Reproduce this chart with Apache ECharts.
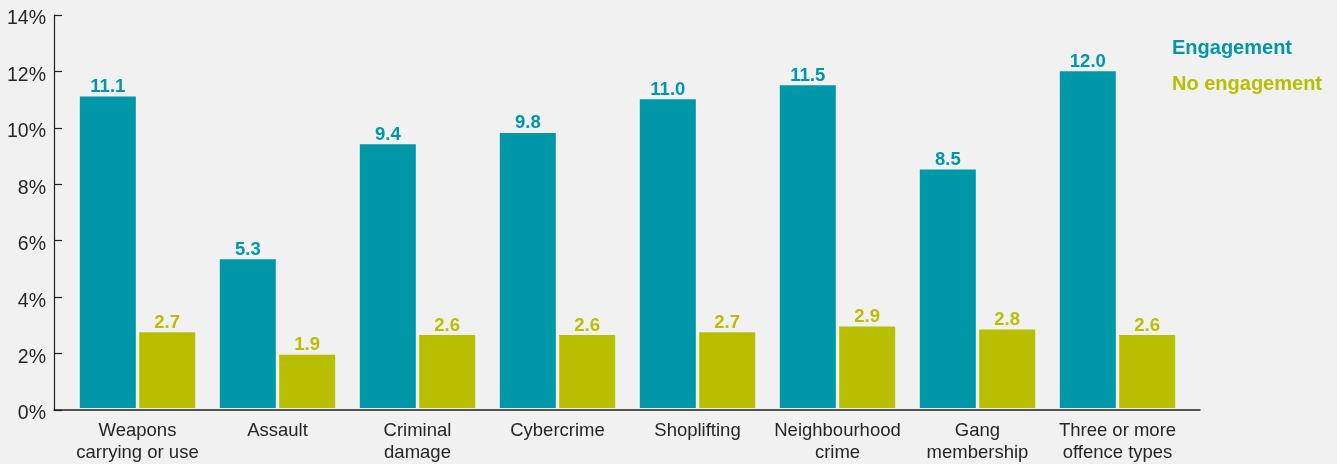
<!DOCTYPE html>
<html>
<head>
<meta charset="utf-8">
<script src="https://cdn.jsdelivr.net/npm/echarts@6/dist/echarts.min.js"></script>
<style>
html,body{margin:0;padding:0;background:#f1f1f1;}
#chart{width:1337px;height:464px;}
</style>
</head>
<body>
<div id="chart"></div>
<script>
const categories = ["Weapons\ncarrying or use", "Assault", "Criminal\ndamage", "Cybercrime", "Shoplifting", "Neighbourhood\ncrime", "Gang\nmembership", "Three or more\noffence types"];
const engagement = [11.1, 5.3, 9.4, 9.8, 11.0, 11.5, 8.5, 12.0];
const noEngagement = [2.7, 1.9, 2.6, 2.6, 2.7, 2.9, 2.8, 2.6];
const seriesNames = ["Engagement", "No engagement"];
const colors = ["#0097a9", "#b7bf00"];
const yMin = 0, yMax = 14, yStep = 2;

const chart = echarts.init(document.getElementById('chart'));
const font = 'Liberation Sans, Arial, Helvetica, sans-serif';
const labelCfg = (c) => ({
  show: true, position: 'top', distance: 0, color: c,
  fontFamily: font, fontWeight: 'bold', fontSize: 18.5,
  formatter: p => p.value.toFixed(1)
});
chart.setOption({
  backgroundColor: '#f1f1f1',
  animation: false,
  textStyle: {fontFamily: font},
  legend: {
    orient: 'vertical', left: 1162, top: 33, itemGap: 16,
    itemWidth: 0, itemHeight: 0, icon: 'rect',
    selectedMode: false,
    data: [
      {name: seriesNames[0], textStyle: {color: colors[0]}},
      {name: seriesNames[1], textStyle: {color: colors[1]}}
    ],
    textStyle: {fontFamily: font, fontWeight: 'bold', fontSize: 20}
  },
  grid: [
    {left: 54, right: 137, top: 15, bottom: 54},
    {left: 67.5, right: 149.5, top: 15, bottom: 54}
  ],
  xAxis: [
    {gridIndex: 0, type: 'value', min: 0, max: 1, axisLine: {show: true, onZero: false, lineStyle: {color: '#222', width: 1.5}},
     axisTick: {show: false}, axisLabel: {show: false}, splitLine: {show: false}},
    {gridIndex: 1, type: 'category', data: categories, axisLine: {show: false}, axisTick: {show: false},
     axisLabel: {color: '#262626', fontSize: 18.5, fontFamily: font, margin: 12, lineHeight: 22, interval: 0}}
  ],
  yAxis: [
    {gridIndex: 0, type: 'value', min: yMin, max: yMax, interval: yStep,
     axisLine: {show: true, lineStyle: {color: '#222', width: 1.2}},
     axisTick: {show: true, inside: true, length: 8, lineStyle: {color: '#222', width: 1.2}},
     axisLabel: {margin: 8, formatter: '{a|{value}%}',
       rich: {a: {color: '#262626', fontSize: 19.5, fontFamily: font, padding: [8, 0, 0, 0]}}},
     splitLine: {show: false}},
    {gridIndex: 1, type: 'value', min: yMin, max: yMax, interval: yStep, show: false, splitLine: {show: false}}
  ],
  series: [
    {name: seriesNames[0], type: 'bar', xAxisIndex: 1, yAxisIndex: 1, data: engagement,
     barWidth: 56, barGap: '6%', itemStyle: {color: colors[0]}, label: labelCfg(colors[0])},
    {name: seriesNames[1], type: 'bar', xAxisIndex: 1, yAxisIndex: 1, data: noEngagement,
     barWidth: 56, barGap: '6%', itemStyle: {color: colors[1]}, label: labelCfg(colors[1])}
  ]
});
</script>
</body>
</html>
